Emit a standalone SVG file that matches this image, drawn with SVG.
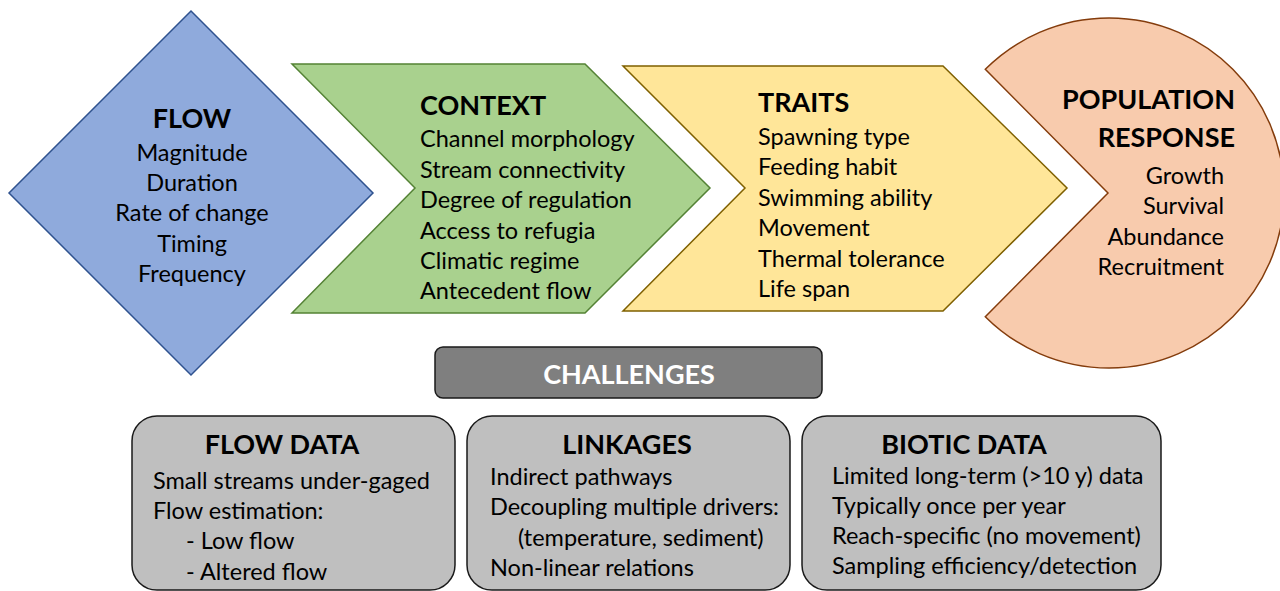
<svg xmlns="http://www.w3.org/2000/svg" width="1280" height="591" viewBox="0 0 1280 591">
<style>
text{font-family:Lato,"Carlito","Liberation Sans",sans-serif;fill:#000}
.t{font-size:27px;font-weight:bold}
.b{font-size:23.5px}
.c{text-anchor:middle}
.r{text-anchor:end}
.box{fill:#BFBFBF;stroke:#1a1a1a;stroke-width:1.5}
</style>
<rect width="1280" height="591" fill="#fff"/>
<g id="flow">
<polygon points="191,11 373,193 191,375 9,193" fill="#8FAADC" stroke="#2F528F" stroke-width="1.5"/>
<text class="t c" x="192" y="128">FLOW</text>
<text class="b c" x="192" y="161">Magnitude</text>
<text class="b c" x="192" y="191">Duration</text>
<text class="b c" x="192" y="221">Rate of change</text>
<text class="b c" x="192" y="252">Timing</text>
<text class="b c" x="192" y="282">Frequency</text>
</g>
<g id="context">
<polygon points="292,64 585,64 710,188 585,313 292,313 415,188" fill="#A9D18E" stroke="#548235" stroke-width="1.5"/>
<text class="t" x="420" y="115">CONTEXT</text>
<text class="b" x="420" y="147">Channel morphology</text>
<text class="b" x="420" y="178">Stream connectivity</text>
<text class="b" x="420" y="208">Degree of regulation</text>
<text class="b" x="420" y="239">Access to refugia</text>
<text class="b" x="420" y="269">Climatic regime</text>
<text class="b" x="420" y="299">Antecedent flow</text>
</g>
<g id="traits">
<polygon points="623,66 943,66 1067,188 943,311 623,311 745,188" fill="#FFE699" stroke="#7F6000" stroke-width="1.5"/>
<text class="t" x="758" y="112">TRAITS</text>
<text class="b" x="758" y="145">Spawning type</text>
<text class="b" x="758" y="175">Feeding habit</text>
<text class="b" x="758" y="206">Swimming ability</text>
<text class="b" x="758" y="236">Movement</text>
<text class="b" x="758" y="267">Thermal tolerance</text>
<text class="b" x="758" y="297">Life span</text>
</g>
<g id="population">
<path d="M1108,193 L985.3,69.3 A175,175 0 1 1 985.3,316.7 Z" fill="#F8CBAD" stroke="#843C0C" stroke-width="1.5"/>
<text class="t r" x="1235" y="109">POPULATION</text>
<text class="t r" x="1235" y="147">RESPONSE</text>
<text class="b r" x="1224" y="184">Growth</text>
<text class="b r" x="1224" y="214">Survival</text>
<text class="b r" x="1224" y="245">Abundance</text>
<text class="b r" x="1224" y="275">Recruitment</text>
</g>
<g id="challenges">
<rect x="435" y="347" width="387" height="51" rx="8" fill="#7F7F7F" stroke="#1a1a1a" stroke-width="1.5"/>
<text class="t c" x="629" y="384" style="fill:#fff">CHALLENGES</text>
</g>
<g id="flow-data">
<rect class="box" x="132" y="416" width="323" height="174" rx="25"/>
<text class="t c" x="282" y="454">FLOW DATA</text>
<text class="b" x="153" y="489">Small streams under-gaged</text>
<text class="b" x="153" y="519">Flow estimation:</text>
<text class="b" x="186" y="549">- Low flow</text>
<text class="b" x="186" y="580">- Altered flow</text>
</g>
<g id="linkages">
<rect class="box" x="467" y="416" width="323" height="174" rx="25"/>
<text class="t c" x="627" y="454">LINKAGES</text>
<text class="b" x="490" y="485">Indirect pathways</text>
<text class="b" x="490" y="515">Decoupling multiple drivers:</text>
<text class="b" x="518" y="546">(temperature, sediment)</text>
<text class="b" x="490" y="576">Non-linear relations</text>
</g>
<g id="biotic-data">
<rect class="box" x="802" y="416" width="359" height="174" rx="25"/>
<text class="t c" x="964" y="454">BIOTIC DATA</text>
<text class="b" x="832" y="484">Limited long-term (&gt;10 y) data</text>
<text class="b" x="832" y="514">Typically once per year</text>
<text class="b" x="832" y="544">Reach-specific (no movement)</text>
<text class="b" x="832" y="574">Sampling efficiency/detection</text>
</g>
<g id="connectors"></g>
</svg>
